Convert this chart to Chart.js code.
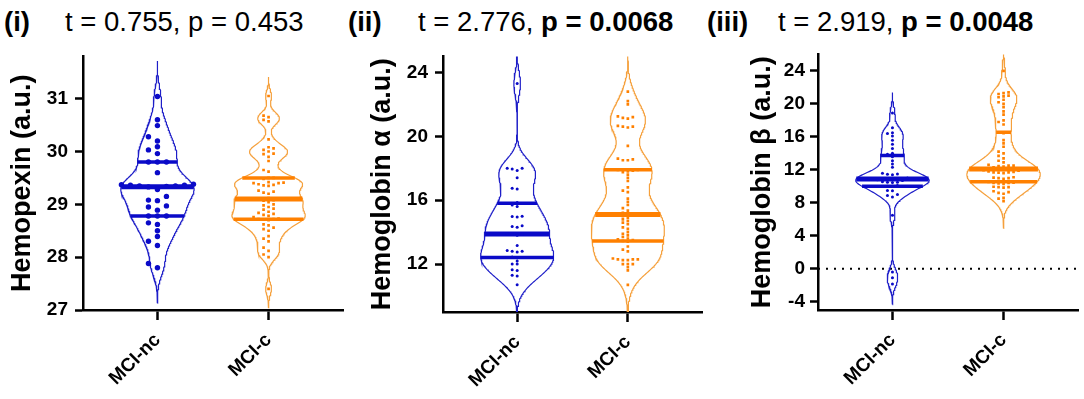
<!DOCTYPE html>
<html>
<head>
<meta charset="utf-8">
<script src="https://cdn.jsdelivr.net/npm/chart.js@4.4.1/dist/chart.umd.min.js"></script>
<style>
body { margin: 0; background: #fff; }
#page { position: relative; width: 1084px; height: 399px; font-family: "Liberation Sans", Arial, sans-serif; }
.tag, .stat { position: absolute; top: 7px; font-size: 27.5px; line-height: 30px; color: #000; white-space: nowrap; }
.tag { font-weight: bold; }
canvas { position: absolute; top: 38px; }
</style>
</head>
<body>
<div id="page">
  <div class="tag" style="left:4px">(i)</div>
  <div class="stat" style="left:65px">t = 0.755, p = 0.453</div>
  <div class="tag" style="left:348px">(ii)</div>
  <div class="stat" style="left:418px">t = 2.776, <b>p = 0.0068</b></div>
  <div class="tag" style="left:707px">(iii)</div>
  <div class="stat" style="left:778px">t = 2.919, <b>p = 0.0048</b></div>
  <canvas id="hemopexin" width="358" height="361" style="left:0"></canvas>
  <canvas id="hbAlpha" width="362" height="361" style="left:358px"></canvas>
  <canvas id="hbBeta" width="364" height="361" style="left:720px"></canvas>
</div>
<script>
const groups = ['MCI-nc', 'MCI-c'];

// (i) Hemopexin
const hemopexinNC = [31.04, 30.6, 30.49, 30.28, 30.2, 30.09, 30.03, 29.96, 29.8, 29.8, 29.8, 29.6,
  29.38, 29.37, 29.36, 29.36, 29.35, 29.35, 29.34, 29.33, 29.28, 29.15, 29.08, 29.07, 28.97, 28.95, 28.89,
  28.78, 28.78, 28.78, 28.65, 28.62, 28.5, 28.39, 28.3, 28.22, 27.88, 27.8];
const hemopexinC = [31.05, 30.68, 30.65, 30.6, 30.57, 30.23,
  30.08, 30.06, 30.03, 30.0, 29.96, 29.95, 29.9, 29.82, 29.65, 29.62,
  29.5, 29.5, 29.48, 29.42, 29.41, 29.4, 29.4, 29.38, 29.37, 29.36, 29.35,
  29.26, 29.24, 29.22, 29.2, 29.12, 29.1, 29.1, 29.09, 29.08, 29.07,
  29.04, 29.0, 28.98, 28.95, 28.92, 28.9, 28.86, 28.84, 28.82, 28.8, 28.78, 28.76,
  28.73, 28.72, 28.72, 28.71, 28.7, 28.62, 28.6, 28.56, 28.53, 28.5,
  28.4, 28.35, 28.3, 28.18, 28.12, 28.05, 28.0, 27.4];
const hemopexinTicks = [27, 28, 29, 30, 31];

// (ii) Hemoglobin alpha
const hbAlphaNC = [23.3, 18.0, 18.0, 17.95, 17.85, 17.4, 16.75, 16.7, 15.85, 15.7, 15.6,
  15.0, 14.98, 14.95, 14.4, 14.35, 14.3, 13.9, 13.86, 13.85, 13.8, 13.17,
  12.85, 12.8, 12.8, 12.75, 12.45, 12.4, 12.2, 12.0, 12.0, 11.65, 11.6, 11.3, 11.25, 10.7];
const hbAlphaC = [22.8, 22.2, 22.0, 21.25, 21.2, 21.15, 21.1, 20.65, 20.6, 20.6, 20.55, 19.4,
  18.6, 18.55, 18.5, 18.5, 17.9, 17.9, 17.85, 17.8, 17.75, 17.6, 17.4, 17.2, 16.8, 16.6, 16.5,
  16.1, 15.9, 15.7, 15.5, 15.35, 15.2, 15.1, 15.05, 15.0, 14.9, 14.8, 14.7, 14.6, 14.5, 14.3,
  14.2, 14.0, 13.9, 13.8, 13.7, 13.6, 13.55, 13.5, 13.45, 13.4, 13.1, 12.9, 12.8,
  12.35, 12.3, 12.3, 12.3, 12.25, 12.25, 12.0, 12.0, 12.0, 11.8, 11.6, 10.7];
const hbAlphaTicks = [12, 16, 20, 24];

// (iii) Hemoglobin beta
const hbBetaNC = [18.9, 17.1, 16.5, 16.4, 16.1, 15.6, 15.1, 14.6, 14.0, 13.9, 13.6, 13.1, 12.7, 12.3,
  11.6, 11.5, 11.45, 11.4, 11.0, 10.95, 10.9, 10.9, 10.85, 10.8, 10.7, 10.55, 10.5, 10.5, 10.45,
  10.1, 10.0, 10.0, 9.5, 9.45, 9.0, 8.9, 8.7, 6.5, -0.4, -1.1, -1.85];
const hbBetaC = [24.0, 21.4, 21.3, 21.2, 21.0, 20.9, 20.8, 20.5, 20.2, 20.0, 19.6, 19.1, 18.7,
  18.0, 17.8, 17.5, 16.55, 16.45, 15.6, 15.2, 14.8, 14.2, 14.0, 13.7, 13.4, 13.1, 12.9, 12.6,
  12.5, 12.5, 12.45, 12.4, 12.3, 12.1, 12.05, 12.0, 11.95, 11.9, 11.8, 11.75, 11.7, 11.7, 11.65,
  11.6, 11.1, 11.05, 11.0, 11.0, 10.9, 10.6, 10.55, 10.45, 10.4, 10.4, 10.35, 10.3, 9.95, 9.9,
  9.9, 9.85, 9.4, 9.3, 9.2, 9.1, 8.6, 8.5, 8.2];
const hbBetaTicks = [-4, 0, 4, 8, 12, 16, 20, 24];

const BLUE = 'rgb(10,10,200)';
const ORANGE = 'rgb(255,128,0)';
const BLUE_EDGE = 'rgb(30,30,200)';
const ORANGE_EDGE = 'rgb(245,160,60)';
const FONT = '"Liberation Sans", Arial, sans-serif';

// percentile the way Prism does it: position (n+1)p
function quantile(s, p) {
  const n = s.length;
  const pos = (n + 1) * p;
  if (pos <= 1) return s[0];
  if (pos >= n) return s[n - 1];
  const lo = Math.floor(pos);
  return s[lo - 1] + (pos - lo) * (s[lo] - s[lo - 1]);
}

function bandwidth(s) {
  const n = s.length;
  const mean = s.reduce((a, b) => a + b, 0) / n;
  const sd = Math.sqrt(s.reduce((a, v) => a + (v - mean) ** 2, 0) / (n - 1));
  const iqr = quantile(s, 0.75) - quantile(s, 0.25);
  return 0.9 * Math.min(sd, iqr / 1.34) * Math.pow(n, -0.2);
}

// kernel density outline of one group
function violin(vals, center, halfW, smooth) {
  const s = vals.slice().sort((a, b) => a - b);
  const h = bandwidth(s) * smooth;
  const dens = y => s.reduce((a, v) => a + Math.exp(-0.5 * ((y - v) / h) ** 2), 0);
  const lo = s[0] - 3.2 * h, hi = s[s.length - 1] + 3.2 * h;
  const ys = [];
  for (let i = 0; i <= 300; i++) ys.push(lo + (hi - lo) * i / 300);
  const peak = Math.max(...ys.map(dens));
  const w = y => halfW * dens(y) / peak;
  const right = ys.map(y => ({ x: center + w(y), y }));
  const left = ys.slice().reverse().map(y => ({ x: center - w(y), y }));
  return {
    outline: right.concat(left, [right[0]]), w,
    q1: quantile(s, 0.25), med: quantile(s, 0.5), q3: quantile(s, 0.75)
  };
}

// spread the dots sideways so they don't sit on top of each other
function swarm(vals, center, pxPerX, pxPerY, gap, row) {
  const placed = [];
  return vals.slice().sort((a, b) => a - b).map(v => {
    const py = v * pxPerY;
    for (let i = 0; ; i++) {
      const k = i === 0 ? 0 : (i % 2 ? -Math.ceil(i / 2) : i / 2);
      const px = k * gap;
      if (!placed.some(p => Math.abs(p.px - px) < gap * 0.9 && Math.abs(p.py - py) < row)) {
        placed.push({ px, py });
        return { x: center + px / pxPerX, y: v };
      }
    }
  });
}

function lineSet(data, color, width, extra) {
  return Object.assign({
    type: 'scatter', data, showLine: true, borderColor: color, borderWidth: width,
    pointRadius: 0, pointHoverRadius: 0, fill: false, tension: 0, borderCapStyle: 'butt'
  }, extra || {});
}

function makePanel(id, p) {
  const xMin = -0.67, xMax = 1.67;
  const pxPerX = 260 / (xMax - xMin);
  const pxPerY = 260 / (p.max - p.min);
  const points = [], lines = [], shapes = [];
  [p.nc, p.c].forEach((vals, i) => {
    const st = p.styles[i];
    const v = violin(vals, i, 0.33, st.smooth);
    points.push({
      type: 'scatter', data: swarm(vals, i, pxPerX, pxPerY, st.gap, st.row),
      pointStyle: st.shape, pointRadius: st.r, pointHoverRadius: st.r,
      backgroundColor: st.color, borderWidth: 0
    });
    lines.push(lineSet([{ x: i - v.w(v.med), y: v.med }, { x: i + v.w(v.med), y: v.med }], st.color, 5));
    lines.push(lineSet([{ x: i - v.w(v.q1), y: v.q1 }, { x: i + v.w(v.q1), y: v.q1 }], st.color, 3.5));
    lines.push(lineSet([{ x: i - v.w(v.q3), y: v.q3 }, { x: i + v.w(v.q3), y: v.q3 }], st.color, 3.5));
    shapes.push(lineSet(v.outline, st.edge, 1.2));
  });
  if (p.zeroLine) {
    shapes.push(lineSet([{ x: xMin, y: 0 }, { x: xMax, y: 0 }], '#000', 2, { borderDash: [2, 6] }));
  }

  new Chart(document.getElementById(id).getContext('2d'), {
    type: 'scatter',
    data: { datasets: points.concat(lines, shapes) },
    options: {
      responsive: false,
      animation: false,
      layout: { padding: { left: p.padLeft, top: p.padTop, right: p.padRight, bottom: 0 } },
      plugins: { legend: { display: false }, tooltip: { enabled: false } },
      scales: {
        x: {
          type: 'linear', min: xMin, max: xMax,
          afterBuildTicks: a => { a.ticks = [{ value: 0 }, { value: 1 }]; },
          afterFit: a => { a.height = p.xHeight; },
          ticks: {
            callback: v => groups[v], minRotation: 45, maxRotation: 45, autoSkip: false,
            color: '#000', padding: 9, font: { family: FONT, size: 19, weight: 'bold' }
          },
          grid: { drawOnChartArea: false, tickLength: 10, tickWidth: 2.5, tickColor: '#000' },
          border: { color: '#000', width: 2.5 }
        },
        y: {
          min: p.min, max: p.max,
          afterBuildTicks: a => { a.ticks = p.ticks.map(v => ({ value: v })); },
          afterFit: a => { a.width = p.yWidth; },
          ticks: { color: '#000', padding: p.tickPad, font: { family: FONT, size: 19, weight: 'bold' } },
          grid: { drawOnChartArea: false, tickLength: 8, tickWidth: 2.5, tickColor: '#000' },
          border: { color: '#000', width: 2.5 },
          title: {
            display: true, text: p.title, color: '#000', padding: { top: 6, bottom: 0 },
            font: { family: FONT, size: 27, weight: 'bold' }
          }
        }
      }
    }
  });
}

const smallDots = [
  { color: BLUE, edge: BLUE_EDGE, shape: 'circle', r: 1.5, gap: 5, row: 3.2, smooth: 0.65 },
  { color: ORANGE, edge: ORANGE_EDGE, shape: 'rect', r: 1.9, gap: 5, row: 3.2, smooth: 0.65 }
];

makePanel('hemopexin', {
  title: 'Hemopexin (a.u.)', nc: hemopexinNC, c: hemopexinC, ticks: hemopexinTicks,
  min: 27, max: 31.8, tickPad: 7,
  padLeft: 0, yWidth: 83, padTop: 12, padRight: 15, xHeight: 89,
  styles: [
    { color: BLUE, edge: BLUE_EDGE, shape: 'circle', r: 2.7, gap: 9, row: 5.5, smooth: 0.65 },
    { color: ORANGE, edge: ORANGE_EDGE, shape: 'rect', r: 1.9, gap: 5, row: 3.5, smooth: 0.5 }
  ]
});

makePanel('hbAlpha', {
  title: 'Hemoglobin \u03b1 (a.u.)', nc: hbAlphaNC, c: hbAlphaC, ticks: hbAlphaTicks,
  min: 9, max: 25, tickPad: 7,
  padLeft: 2, yWidth: 83, padTop: 15, padRight: 18, xHeight: 87,
  styles: smallDots
});

makePanel('hbBeta', {
  title: 'Hemoglobin \u03b2 (a.u.)', nc: hbBetaNC, c: hbBetaC, ticks: hbBetaTicks,
  min: -5, max: 26, tickPad: 5, zeroLine: true,
  padLeft: 20, yWidth: 78, padTop: 12, padRight: 6, xHeight: 89,
  styles: smallDots
});
</script>
</body>
</html>
